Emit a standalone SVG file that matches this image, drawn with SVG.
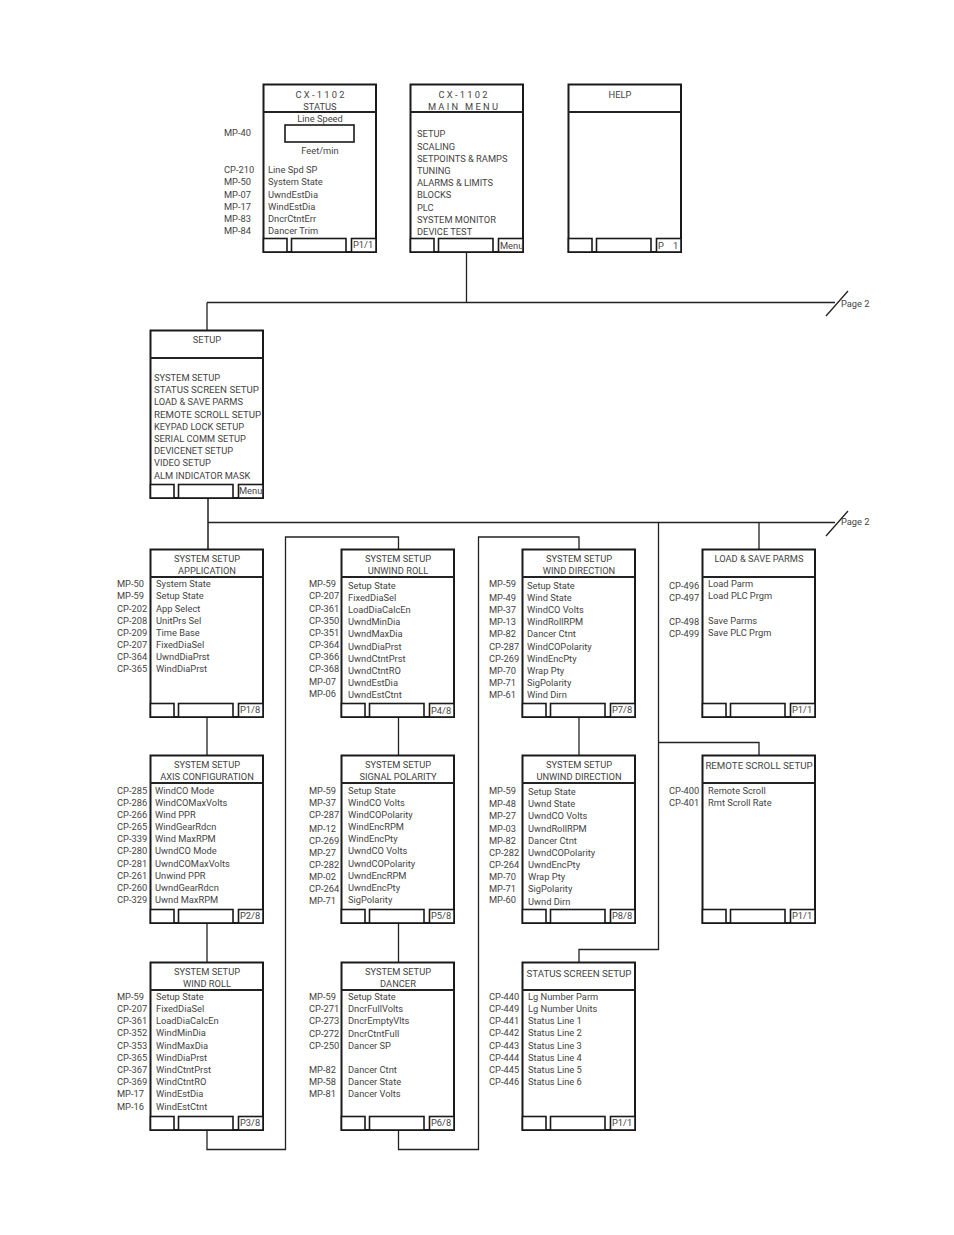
<svg xmlns="http://www.w3.org/2000/svg" width="954" height="1235" viewBox="0 0 954 1235">
<defs><style>
text{font-family:Roboto,"Liberation Sans",Arial,sans-serif;font-size:9.300px;fill:#444;font-weight:400}
.c{text-anchor:middle}
.p{white-space:pre}
.u{font-size:9.700px}
.f{fill:#fff;stroke:#1a1a1a;stroke-width:2}
.b{fill:#fff;stroke:#1a1a1a;stroke-width:1.600}
.h{stroke:#222;stroke-width:2}
</style>
<g id="frame"><rect class="f" x=".5" y=".5" width="112.500" height="167.500"/><path class="h" d="M0 28H113"/></g>
<g id="btns"><rect class="b" x=".5" y="154.500" width="23.500" height="13.500"/><rect class="b" x="28.500" y="154.500" width="54.500" height="13.500"/><rect class="b" x="88.500" y="154.500" width="24.500" height="13.500"/></g>
</defs>
<rect width="954" height="1235" fill="#fff"/>
<g id="connectors" fill="none" stroke="#222" stroke-width="1.300">
<path d="M466.500 252V302.500M207 302.500H835M207 302.500V330"/>
<path d="M826 316L848 291M826 536L848 511"/>
<path stroke-width="1.800" stroke="#444" d="M208 497V549"/>
<path d="M208 522.500H835"/>
<path d="M207 717V755M207 922V962"/>
<path d="M207 1129V1149.500H285.500V537H398.500V549"/>
<path d="M398.500 717V755M398.500 922V962"/>
<path d="M398.500 1129V1149.500H478.500V537H579V549"/>
<path d="M579 717V755"/>
<path d="M658.500 522.500V949.500H579V962"/>
<path d="M759 522.500V549M658.500 742.500H759V755"/>
<text x="841" y="307" stroke="none">Page 2</text>
<text x="841" y="525" stroke="none">Page 2</text>
</g>

<g id="status" transform="translate(263 84)"><use href="#frame"/><use href="#btns"/>
<text class="c p" x="57" y="14">C X - 1 1 0 2</text><text class="c" x="57" y="26">STATUS</text><text class="c" x="57" y="38">Line Speed</text>
<rect class="b" x="22" y="41" width="69" height="17"/><text class="c" x="57" y="70">Feet/min</text>
<text x="5" y="89">Line Spd SP</text><text x="5" y="101">System State</text><text x="5" y="114">UwndEstDia</text><text x="5" y="126">WindEstDia</text><text x="5" y="138">DncrCtntErr</text><text x="5" y="150">Dancer Trim</text>
<text x="90" y="164">P1/1</text>
<text x="-39" y="52">MP-40</text><text x="-39" y="89">CP-210</text><text x="-39" y="101">MP-50</text><text x="-39" y="114">MP-07</text><text x="-39" y="126">MP-17</text><text x="-39" y="138">MP-83</text><text x="-39" y="150">MP-84</text></g>

<g id="mainmenu" transform="translate(410 84)"><use href="#frame"/><use href="#btns"/>
<text class="c p" x="53" y="14">C X - 1 1 0 2</text><text class="c p" x="53" y="26">M A I N   M E N U</text>
<text x="7" y="53">SETUP</text><text x="7" y="66">SCALING</text><text x="7" y="78">SETPOINTS &amp; RAMPS</text><text x="7" y="90">TUNING</text><text x="7" y="102">ALARMS &amp; LIMITS</text><text x="7" y="114">BLOCKS</text><text x="7" y="127">PLC</text><text x="7" y="139">SYSTEM MONITOR</text><text x="7" y="151">DEVICE TEST</text>
<text x="90" y="165">Menu</text></g>

<g id="help" transform="translate(568 84)"><use href="#frame"/><use href="#btns"/><text class="c" x="52" y="14">HELP</text><text class="p" x="90" y="165">P    1</text></g>

<g id="setup" transform="translate(150 330)"><use href="#frame"/><use href="#btns"/>
<text class="c" x="57" y="13">SETUP</text>
<text x="4" y="51">SYSTEM SETUP</text><text class="u" x="4" y="63">STATUS SCREEN SETUP</text><text x="4" y="75">LOAD &amp; SAVE PARMS</text><text class="u" x="4" y="88">REMOTE SCROLL SETUP</text><text x="4" y="100">KEYPAD LOCK SETUP</text><text x="4" y="112">SERIAL COMM SETUP</text><text x="4" y="124">DEVICENET SETUP</text><text x="4" y="136">VIDEO SETUP</text><text x="4" y="149">ALM INDICATOR MASK</text>
<text x="89" y="164">Menu</text></g>

<g id="application" transform="translate(150 549)"><use href="#frame"/><use href="#btns"/>
<text class="c" x="57" y="13">SYSTEM SETUP</text><text class="c" x="57" y="25">APPLICATION</text>
<text x="6" y="38">System State</text><text x="6" y="50">Setup State</text><text x="6" y="63">App Select</text><text x="6" y="75">UnitPrs Sel</text><text x="6" y="87">Time Base</text><text x="6" y="99">FixedDiaSel</text><text x="6" y="111">UwndDiaPrst</text><text x="6" y="123">WindDiaPrst</text>
<text x="90" y="164">P1/8</text>
<text x="-33" y="38">MP-50</text><text x="-33" y="50">MP-59</text><text x="-33" y="63">CP-202</text><text x="-33" y="75">CP-208</text><text x="-33" y="87">CP-209</text><text x="-33" y="99">CP-207</text><text x="-33" y="111">CP-364</text><text x="-33" y="123">CP-365</text></g>

<g id="axis" transform="translate(150 755)"><use href="#frame"/><use href="#btns"/>
<text class="c" x="57" y="13">SYSTEM SETUP</text><text class="c" x="57" y="25">AXIS CONFIGURATION</text>
<text x="5" y="39">WindCO Mode</text><text x="5" y="51">WindCOMaxVolts</text><text x="5" y="63">Wind PPR</text><text x="5" y="75">WindGearRdcn</text><text x="5" y="87">Wind MaxRPM</text><text x="5" y="99">UwndCO Mode</text><text x="5" y="112">UwndCOMaxVolts</text><text x="5" y="124">Unwind PPR</text><text x="5" y="136">UwndGearRdcn</text><text x="5" y="148">Uwnd MaxRPM</text>
<text x="90" y="164">P2/8</text>
<text x="-33" y="39">CP-285</text><text x="-33" y="51">CP-286</text><text x="-33" y="63">CP-266</text><text x="-33" y="75">CP-265</text><text x="-33" y="87">CP-339</text><text x="-33" y="99">CP-280</text><text x="-33" y="112">CP-281</text><text x="-33" y="124">CP-261</text><text x="-33" y="136">CP-260</text><text x="-33" y="148">CP-329</text></g>

<g id="windroll" transform="translate(150 962)"><use href="#frame"/><use href="#btns"/>
<text class="c" x="57" y="13">SYSTEM SETUP</text><text class="c" x="57" y="25">WIND ROLL</text>
<text x="6" y="38">Setup State</text><text x="6" y="50">FixedDiaSel</text><text x="6" y="62">LoadDiaCalcEn</text><text x="6" y="74">WindMinDia</text><text x="6" y="87">WindMaxDia</text><text x="6" y="99">WindDiaPrst</text><text x="6" y="111">WindCtntPrst</text><text x="6" y="123">WindCtntRO</text><text x="6" y="135">WindEstDia</text><text x="6" y="148">WindEstCtnt</text>
<text x="90" y="164">P3/8</text>
<text x="-33" y="38">MP-59</text><text x="-33" y="50">CP-207</text><text x="-33" y="62">CP-361</text><text x="-33" y="74">CP-352</text><text x="-33" y="87">CP-353</text><text x="-33" y="99">CP-365</text><text x="-33" y="111">CP-367</text><text x="-33" y="123">CP-369</text><text x="-33" y="135">MP-17</text><text x="-33" y="148">MP-16</text></g>

<g id="unwindroll" transform="translate(341 549)"><use href="#frame"/><use href="#btns"/>
<text class="c" x="57" y="13">SYSTEM SETUP</text><text class="c" x="57" y="25">UNWIND ROLL</text>
<text x="7" y="40">Setup State</text><text x="7" y="52">FixedDiaSel</text><text x="7" y="64">LoadDiaCalcEn</text><text x="7" y="76">UwndMinDia</text><text x="7" y="88">UwndMaxDia</text><text x="7" y="101">UwndDiaPrst</text><text x="7" y="113">UwndCtntPrst</text><text x="7" y="125">UwndCtntRO</text><text x="7" y="137">UwndEstDia</text><text x="7" y="149">UwndEstCtnt</text>
<text x="90" y="165">P4/8</text>
<text x="-32" y="38">MP-59</text><text x="-32" y="50">CP-207</text><text x="-32" y="63">CP-361</text><text x="-32" y="75">CP-350</text><text x="-32" y="87">CP-351</text><text x="-32" y="99">CP-364</text><text x="-32" y="111">CP-366</text><text x="-32" y="123">CP-368</text><text x="-32" y="136">MP-07</text><text x="-32" y="148">MP-06</text></g>

<g id="signal" transform="translate(341 755)"><use href="#frame"/><use href="#btns"/>
<text class="c" x="57" y="13">SYSTEM SETUP</text><text class="c" x="57" y="25">SIGNAL POLARITY</text>
<text x="7" y="39">Setup State</text><text x="7" y="51">WindCO Volts</text><text x="7" y="63">WindCOPolarity</text><text x="7" y="75">WindEncRPM</text><text x="7" y="87">WindEncPty</text><text x="7" y="99">UwndCO Volts</text><text x="7" y="112">UwndCOPolarity</text><text x="7" y="124">UwndEncRPM</text><text x="7" y="136">UwndEncPty</text><text x="7" y="148">SigPolarity</text>
<text x="90" y="164">P5/8</text>
<text x="-32" y="39">MP-59</text><text x="-32" y="51">MP-37</text><text x="-32" y="63">CP-287</text><text x="-32" y="77">MP-12</text><text x="-32" y="89">CP-269</text><text x="-32" y="101">MP-27</text><text x="-32" y="113">CP-282</text><text x="-32" y="125">MP-02</text><text x="-32" y="137">CP-264</text><text x="-32" y="149">MP-71</text></g>

<g id="dancer" transform="translate(341 962)"><use href="#frame"/><use href="#btns"/>
<text class="c" x="57" y="13">SYSTEM SETUP</text><text class="c" x="57" y="25">DANCER</text>
<text x="7" y="38">Setup State</text><text x="7" y="50">DncrFullVolts</text><text x="7" y="62">DncrEmptyVlts</text><text x="7" y="75">DncrCtntFull</text><text x="7" y="87">Dancer SP</text><text x="7" y="111">Dancer Ctnt</text><text x="7" y="123">Dancer State</text><text x="7" y="135">Dancer Volts</text>
<text x="90" y="164">P6/8</text>
<text x="-32" y="38">MP-59</text><text x="-32" y="50">CP-271</text><text x="-32" y="62">CP-273</text><text x="-32" y="75">CP-272</text><text x="-32" y="87">CP-250</text><text x="-32" y="111">MP-82</text><text x="-32" y="123">MP-58</text><text x="-32" y="135">MP-81</text></g>

<g id="winddir" transform="translate(522 549)"><use href="#frame"/><use href="#btns"/>
<text class="c" x="57" y="13">SYSTEM SETUP</text><text class="c" x="57" y="25">WIND DIRECTION</text>
<text x="5" y="40">Setup State</text><text x="5" y="52">Wind State</text><text x="5" y="64">WindCO Volts</text><text x="5" y="76">WindRollRPM</text><text x="5" y="88">Dancer Ctnt</text><text x="5" y="101">WindCOPolarity</text><text x="5" y="113">WindEncPty</text><text x="5" y="125">Wrap Pty</text><text x="5" y="137">SigPolarity</text><text x="5" y="149">Wind Dirn</text>
<text x="90" y="164">P7/8</text>
<text x="-33" y="38">MP-59</text><text x="-33" y="52">MP-49</text><text x="-33" y="64">MP-37</text><text x="-33" y="76">MP-13</text><text x="-33" y="88">MP-82</text><text x="-33" y="101">CP-287</text><text x="-33" y="113">CP-269</text><text x="-33" y="125">MP-70</text><text x="-33" y="137">MP-71</text><text x="-33" y="149">MP-61</text></g>

<g id="unwinddir" transform="translate(522 755)"><use href="#frame"/><use href="#btns"/>
<text class="c" x="57" y="13">SYSTEM SETUP</text><text class="c" x="57" y="25">UNWIND DIRECTION</text>
<text x="6" y="40">Setup State</text><text x="6" y="52">Uwnd State</text><text x="6" y="64">UwndCO Volts</text><text x="6" y="77">UwndRollRPM</text><text x="6" y="89">Dancer Ctnt</text><text x="6" y="101">UwndCOPolarity</text><text x="6" y="113">UwndEncPty</text><text x="6" y="125">Wrap Pty</text><text x="6" y="137">SigPolarity</text><text x="6" y="150">Uwnd Dirn</text>
<text x="90" y="164">P8/8</text>
<text x="-33" y="39">MP-59</text><text x="-33" y="52">MP-48</text><text x="-33" y="64">MP-27</text><text x="-33" y="77">MP-03</text><text x="-33" y="89">MP-82</text><text x="-33" y="101">CP-282</text><text x="-33" y="113">CP-264</text><text x="-33" y="125">MP-70</text><text x="-33" y="137">MP-71</text><text x="-33" y="148">MP-60</text></g>

<g id="statusscreen" transform="translate(522 962)"><use href="#frame"/><use href="#btns"/>
<text class="c u" x="57" y="15">STATUS SCREEN SETUP</text>
<text x="6" y="38">Lg Number Parm</text><text x="6" y="50">Lg Number Units</text><text x="6" y="62">Status Line 1</text><text x="6" y="74">Status Line 2</text><text x="6" y="87">Status Line 3</text><text x="6" y="99">Status Line 4</text><text x="6" y="111">Status Line 5</text><text x="6" y="123">Status Line 6</text>
<text x="90" y="164">P1/1</text>
<text x="-33" y="38">CP-440</text><text x="-33" y="50">CP-449</text><text x="-33" y="62">CP-441</text><text x="-33" y="74">CP-442</text><text x="-33" y="87">CP-443</text><text x="-33" y="99">CP-444</text><text x="-33" y="111">CP-445</text><text x="-33" y="123">CP-446</text></g>

<g id="loadsave" transform="translate(702 549)"><use href="#frame"/><use href="#btns"/>
<text class="c" x="57" y="13">LOAD &amp; SAVE PARMS</text>
<text x="6" y="38">Load Parm</text><text x="6" y="50">Load PLC Prgm</text><text x="6" y="75">Save Parms</text><text x="6" y="87">Save PLC Prgm</text>
<text x="90" y="164">P1/1</text>
<text x="-33" y="40">CP-496</text><text x="-33" y="52">CP-497</text><text x="-33" y="76">CP-498</text><text x="-33" y="88">CP-499</text></g>

<g id="remotescroll" transform="translate(702 755)"><use href="#frame"/><use href="#btns"/>
<text class="c u" x="57" y="14">REMOTE SCROLL SETUP</text>
<text x="6" y="39">Remote Scroll</text><text x="6" y="51">Rmt Scroll Rate</text>
<text x="90" y="164">P1/1</text>
<text x="-33" y="39">CP-400</text><text x="-33" y="51">CP-401</text></g>
</svg>
